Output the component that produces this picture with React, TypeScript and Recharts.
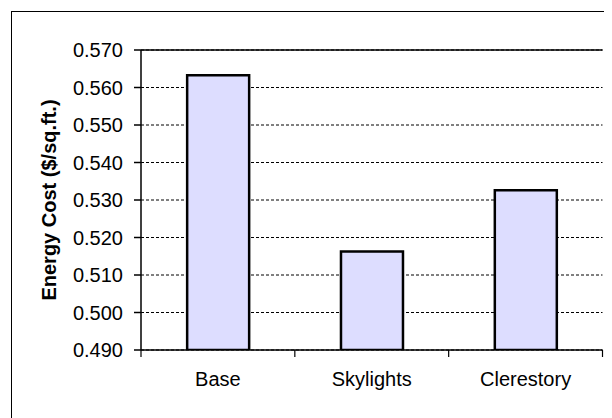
import React from 'react';
import { BarChart, Bar, XAxis, YAxis, CartesianGrid, ReferenceLine } from 'recharts';

const categories = ['Base', 'Skylights', 'Clerestory'];
const energyCost = [0.5633, 0.5163, 0.5326];
const yTicks = [0.49, 0.5, 0.51, 0.52, 0.53, 0.54, 0.55, 0.56, 0.57];

const data = categories.map((name, i) => ({ name, cost: energyCost[i] }));

const FONT = '"Liberation Sans", Arial, Helvetica, sans-serif';

const CHART_W = 596;
const CHART_H = 402;
const MARGIN = { top: 42, right: 1.5, bottom: 30, left: 0 };
const Y_AXIS_W = 133;
const PLOT_W = CHART_W - MARGIN.left - MARGIN.right - Y_AXIS_W;
const HALF_BAND = PLOT_W / categories.length / 2;

const CatTick = (props: any) => {
  const { x, y, payload, index } = props;
  const half = HALF_BAND;
  const last = index === categories.length - 1;
  return (
    <g>
      <line x1={x - half} y1={y} x2={x - half} y2={y + 7} stroke="#000" strokeWidth={1.2} />
      {last && <line x1={x + half} y1={y} x2={x + half} y2={y + 7} stroke="#000" strokeWidth={1.2} />}
      <text x={x} y={y + 36} textAnchor="middle" fontSize={20} fontFamily={FONT} fill="#000">
        {payload.value}
      </text>
    </g>
  );
};

export default function App() {
  return (
    <div style={{ position: 'relative', width: 604, height: 410, overflow: 'hidden', background: '#fff' }}>
      <div
        style={{
          position: 'absolute',
          left: 3,
          top: 3,
          width: 1000,
          height: 1000,
          border: '1px solid #000',
          boxSizing: 'border-box',
        }}
      />
      <div style={{ position: 'absolute', left: 0, top: 0 }}>
        <BarChart width={CHART_W} height={CHART_H} data={data} margin={MARGIN} barCategoryGap="30%">
          <CartesianGrid vertical={false} stroke="#000" strokeDasharray="3 2" />
          <XAxis
            dataKey="name"
            height={30}
            interval={0}
            tickLine={false}
            tickSize={0}
            tickMargin={0}
            stroke="#000"
            strokeWidth={1.5}
            axisLine
            tick={<CatTick />}
          />
          <YAxis
            width={Y_AXIS_W}
            domain={[0.49, 0.57]}
            ticks={yTicks}
            allowDataOverflow
            tickFormatter={(v: number) => v.toFixed(3)}
            tickSize={7}
            tickMargin={11}
            stroke="#000"
            strokeWidth={1.5}
            axisLine
            tickLine
            tick={{ fill: '#000', fontSize: 20, fontFamily: FONT, stroke: 'none' }}
            label={{
              value: 'Energy Cost ($/sq.ft.)',
              angle: -90,
              position: 'insideLeft',
              offset: 41,
              style: { textAnchor: 'middle', fontWeight: 'bold', fontSize: 20, fontFamily: FONT, fill: '#000' },
            }}
          />
          <YAxis
            yAxisId="right"
            orientation="right"
            width={0}
            domain={[0.49, 0.57]}
            tick={false}
            tickLine={false}
            stroke="#222"
            strokeWidth={1.5}
            axisLine
          />
          <ReferenceLine y={0.57} stroke="#000" strokeWidth={1.5} />
          <Bar dataKey="cost" fill="#DDDDFF" stroke="#000" strokeWidth={2.5} isAnimationActive={false} />
        </BarChart>
      </div>
    </div>
  );
}
